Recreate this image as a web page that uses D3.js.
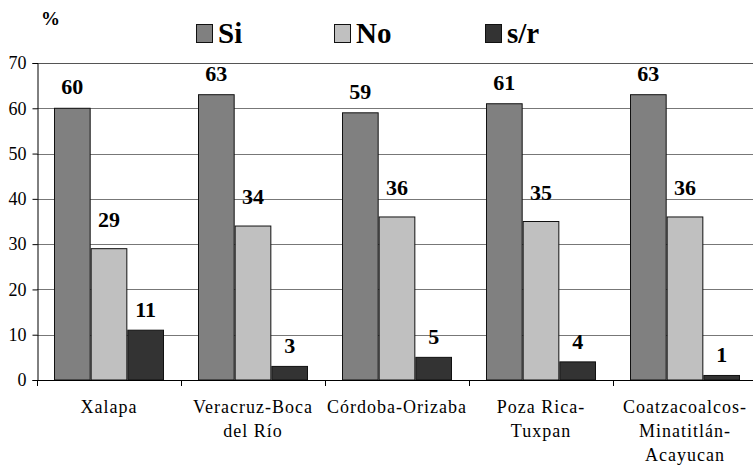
<!DOCTYPE html>
<html><head><meta charset="utf-8">
<script src="https://cdn.jsdelivr.net/npm/d3@7"></script>
<style>
body{margin:0;background:#fff;}
svg{display:block;}
</style></head>
<body>
<svg id="chart" width="753" height="465"></svg>
<script>
const categories = ["Xalapa", "Veracruz-Boca\ndel Río", "Córdoba-Orizaba", "Poza Rica-\nTuxpan", "Coatzacoalcos-\nMinatitlán-\nAcayucan"];
const seriesNames = ["Si", "No", "s/r"];
const siValues = [60, 63, 59, 61, 63];
const noValues = [29, 34, 36, 35, 36];
const srValues = [11, 3, 5, 4, 1];
const yTicks = [0, 10, 20, 30, 40, 50, 60, 70];

const seriesValues = [siValues, noValues, srValues];
const colors = ["#808080", "#c0c0c0", "#333333"];
const labelOffsets = [14, 22, 13];
const FONT = '"Liberation Serif"';

const svg = d3.select("#chart");
const mLeft = 37, mRight = 757, mTop = 63, mBottom = 380;

const x0 = d3.scaleBand().domain(categories).range([mLeft, mRight]).padding(0);
const groupPad = 17;
const x1 = d3.scaleBand().domain(seriesNames).range([groupPad, x0.bandwidth() - groupPad]).padding(0);
const y = d3.scaleLinear().domain([0, 70]).range([mBottom, mTop]);

svg.append("g").selectAll("line").data(yTicks.filter(d => d > 0)).join("line")
  .attr("x1", mLeft).attr("x2", mRight)
  .attr("y1", d => Math.round(y(d)) + 0.5).attr("y2", d => Math.round(y(d)) + 0.5)
  .attr("stroke", d => d === 70 ? "#555" : "#777").attr("stroke-width", 1);

const yAxis = svg.append("g").attr("transform", `translate(${mLeft + 0.5},0)`)
  .call(d3.axisLeft(y).tickValues(yTicks).tickSize(5).tickPadding(6).tickFormat(d3.format("d")));
yAxis.attr("font-family", FONT.replace(/"/g, ""));
yAxis.select(".domain").attr("stroke", "#000");
yAxis.selectAll(".tick line").attr("stroke", "#000");
yAxis.selectAll(".tick text").style("font-family", FONT).style("font-size", "18px").attr("fill", "#000");

const groups = svg.append("g").selectAll("g").data(categories).join("g")
  .attr("transform", d => `translate(${x0(d)},0)`);

seriesNames.forEach((s, si) => {
  groups.append("rect")
    .attr("x", (d, i) => x1(s) + 0.5)
    .attr("y", (d, i) => y(seriesValues[si][i]))
    .attr("width", x1.bandwidth() - 1)
    .attr("height", (d, i) => y(0) - y(seriesValues[si][i]))
    .attr("fill", colors[si]).attr("stroke", "#111").attr("stroke-width", 1);
  groups.append("text")
    .attr("x", (d, i) => x1(s) + x1.bandwidth() / 2)
    .attr("y", (d, i) => y(seriesValues[si][i]) - labelOffsets[si])
    .attr("text-anchor", "middle")
    .style("font-family", FONT).style("font-weight", "bold").style("font-size", "22px")
    .text((d, i) => seriesValues[si][i]);
});

svg.append("line").attr("x1", mLeft).attr("x2", mRight)
  .attr("y1", mBottom + 0.5).attr("y2", mBottom + 0.5).attr("stroke", "#000");
svg.append("g").selectAll("line").data(categories).join("line")
  .attr("x1", d => Math.round(x0(d)) + 0.5).attr("x2", d => Math.round(x0(d)) + 0.5)
  .attr("y1", mBottom).attr("y2", mBottom + 6).attr("stroke", "#000");

const catText = svg.append("g").selectAll("text").data(categories).join("text")
  .attr("x", d => x0(d) + x0.bandwidth() / 2)
  .attr("y", 413)
  .attr("text-anchor", "middle")
  .style("font-family", FONT).style("font-size", "18px").style("letter-spacing", "1px");
catText.each(function(d) {
  const lines = d.split("\n");
  d3.select(this).selectAll("tspan").data(lines).join("tspan")
    .attr("x", x0(d) + x0.bandwidth() / 2)
    .attr("dy", (l, i) => i === 0 ? 0 : 24)
    .text(l => l);
});

svg.append("text").attr("x", 41).attr("y", 25)
  .style("font-family", FONT).style("font-weight", "bold").style("font-size", "19px").text("%");

const legendX = [196, 334, 485];
seriesNames.forEach((s, i) => {
  svg.append("rect").attr("x", legendX[i] + 0.5).attr("y", 24.5).attr("width", 16).attr("height", 18)
    .attr("fill", colors[i]).attr("stroke", "#111");
  svg.append("text").attr("x", legendX[i] + 22).attr("y", 43)
    .style("font-family", FONT).style("font-weight", "bold").style("font-size", "29px").text(s);
});
</script>
</body></html>
